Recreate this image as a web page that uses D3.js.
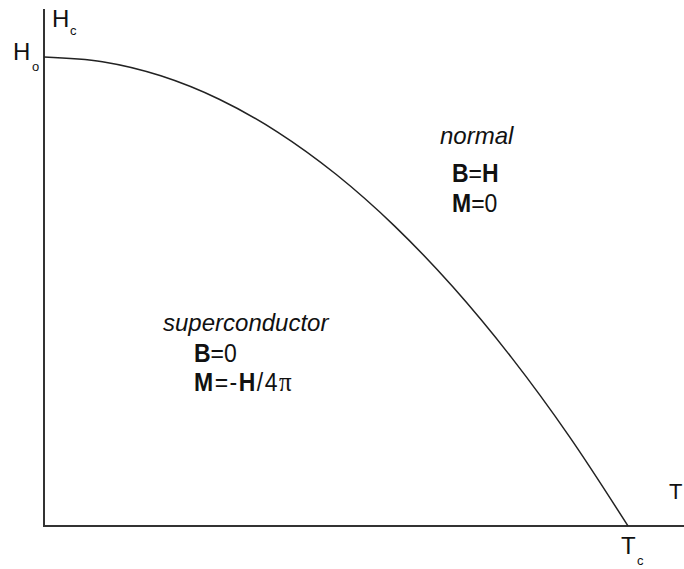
<!DOCTYPE html>
<html>
<head>
<meta charset="utf-8">
<script src="https://cdn.jsdelivr.net/npm/d3@7"></script>
<style>
  html, body { margin: 0; padding: 0; background: #fff; }
  svg { display: block; }
  text { font-family: "Liberation Sans", Arial, sans-serif; fill: #111; }
</style>
</head>
<body>
<svg id="chart" width="684" height="569"></svg>
<script>
// Critical field Hc(T), reduced units: T / Tc and Hc / H0
const temperature = [0, 0.1, 0.2, 0.3, 0.4, 0.5, 0.6, 0.7, 0.8, 0.9, 1.0];
const criticalField = [1.0, 0.99, 0.96, 0.91, 0.84, 0.75, 0.64, 0.51, 0.36, 0.19, 0.0];

// Region labels
const normalLines = [["B", "=", "H"], ["M", "=0"]];
const superLines = [["B", "=0"], ["M", "=-", "H", "/4"]];

const svg = d3.select("#chart");

const x = d3.scaleLinear().domain([0, 1]).range([44, 628]);
const y = d3.scaleLinear().domain([0, 1]).range([526, 57]);

// Axes: plain lines, no ticks
svg.append("line")
  .attr("x1", x(0)).attr("x2", 684)
  .attr("y1", y(0)).attr("y2", y(0))
  .attr("stroke", "#333").attr("stroke-width", 2);
svg.append("line")
  .attr("x1", x(0)).attr("x2", x(0))
  .attr("y1", y(0) + 1).attr("y2", 9)
  .attr("stroke", "#333").attr("stroke-width", 2);

// Phase boundary
const pts = temperature.map((t, i) => [t, criticalField[i]]);
svg.append("path")
  .datum(pts)
  .attr("fill", "none")
  .attr("stroke", "#222")
  .attr("stroke-width", 1.5)
  .attr("d", d3.line().x(d => x(d[0])).y(d => y(d[1])).curve(d3.curveMonotoneX));

// Axis labels with subscripts
function labelWithSub(main, sub, mx, my, sx, sy, size) {
  svg.append("text").attr("x", mx).attr("y", my)
    .attr("font-size", size).text(main);
  svg.append("text").attr("x", sx).attr("y", sy)
    .attr("font-size", 13).text(sub);
}
labelWithSub("H", "c", 52, 27, 70, 35, 24);
labelWithSub("H", "o", 13, 60, 32, 71, 24);
labelWithSub("T", "c", 621, 554, 637, 565, 24);
svg.append("text").attr("x", 669).attr("y", 499)
  .attr("font-size", 22).text("T");

// Region annotations
svg.append("text").attr("x", 440).attr("y", 144)
  .attr("font-size", 24).attr("font-style", "italic").text("normal");
svg.append("text").attr("x", 163).attr("y", 331)
  .attr("font-size", 24).attr("font-style", "italic").text("superconductor");

// Equations, slightly tall lettering
function eqLine(parts, px, py, withPi, spacing) {
  const t = svg.append("text")
    .attr("transform", `translate(${px},${py}) scale(1,1.1)`)
    .attr("font-size", 23)
    .attr("letter-spacing", spacing);
  parts.forEach(p => {
    const bold = (p === "B" || p === "H" || p === "M");
    t.append("tspan").attr("font-weight", bold ? "bold" : "normal").text(p);
  });
  if (withPi) {
    t.append("tspan")
      .style("font-family", "'Liberation Serif', 'DejaVu Serif', serif")
      .attr("font-size", 25).text("\u03c0");
  }
}
eqLine(normalLines[0], 452, 182, false, 0);
eqLine(normalLines[1], 452, 212, false, 0);
eqLine(superLines[0], 194, 362, false, 0);
eqLine(superLines[1], 194, 391, true, 1.5);
</script>
</body>
</html>
